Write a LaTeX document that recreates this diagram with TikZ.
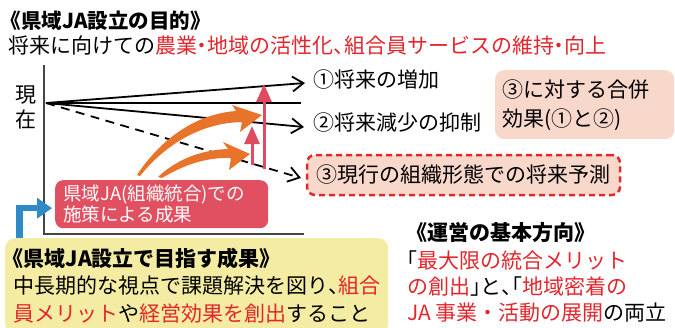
\documentclass[tikz,border=0pt]{standalone}
\usepackage{fontspec}
\setmainfont{Noto Sans CJK JP}
\newfontfamily\jhw{Noto Sans CJK JP}[RawFeature=+halt]
\usetikzlibrary{arrows.meta}
\definecolor{jared}{RGB}{226,38,45}
\definecolor{boxred}{RGB}{224,80,96}
\definecolor{arrred}{RGB}{222,76,98}
\definecolor{jaorange}{RGB}{232,115,42}
\definecolor{jablue}{RGB}{46,139,200}
\definecolor{jayellow}{RGB}{244,236,162}
\definecolor{japink}{RGB}{249,216,204}
\definecolor{dashred}{RGB}{225,40,45}
\definecolor{axisgray}{RGB}{70,70,70}
\newcommand\jfs[2]{\fontsize{#1}{#2}\selectfont}
\newcommand\jnk{{\jhw ・}}
\newcommand\jtouten{{\jhw 、}}
\newcommand\jlb{{\jhw 《}}
\newcommand\jrb{{\jhw 》}}
\newcommand\jlk{{\jhw 「}}
\newcommand\jrk{{\jhw 」}}
\begin{document}
\begin{tikzpicture}[x=1pt,y=-1pt,
  lbl/.style={anchor=west, inner sep=0pt},
  chartarrow/.style={line width=1.8pt, -{Straight Barb[length=11pt,width=15pt,line width=1.8pt]}},
  redup/.style={line width=3pt, arrred, -{Triangle[length=18pt,width=15pt]}},
  bluearrow/.style={jablue, line width=6.5pt, -{Triangle[length=15pt,width=20pt]}},
  orangefill/.style={fill=jaorange},
]
\useasboundingbox (0,0) rectangle (675,327);

% headings
\node[lbl, font=\bfseries\jfs{20.5}{25}] (title) at (11,20.5) {\jlb 県域JA設立の目的\jrb};
\node[lbl, font=\jfs{21}{25}] (sub) at (8,46) {将来に向けての\textcolor{jared}{農業\jnk 地域の活性化\jtouten 組合員サービスの維持\jnk 向上}};

% axes
\draw[axisgray, line width=1.4pt] (44,65) -- (44,234) -- (304,234);
\node[font=\jfs{21}{25}, align=center, inner sep=0pt] (now) at (26,107.5) {現\\在};

% chart lines
\coordinate (O) at (46,103);
\coordinate (e0) at (301,103);
\coordinate (e1) at (305,83);
\coordinate (e2) at (304,127);
\coordinate (e3) at (301,178);
\draw[line width=2.3pt] (O) -- (e0);
\draw[chartarrow] (O) -- (e1);
\draw[chartarrow] (O) -- (e2);
\draw[chartarrow, dash pattern=on 9pt off 6.5pt] (O) -- (e3);

% orange curved arrows
\fill[orangefill] (137,175) .. controls (160,140) and (195,114) .. (236,111)
  -- (232,105) -- (262,115) -- (240,132) -- (242,122)
  .. controls (200,123) and (165,145) .. (140,176) -- cycle;
\fill[orangefill] (158,177) .. controls (176,160) and (200,150) .. (228,149)
  -- (223,142) -- (250,154) -- (229,170) -- (231,158)
  .. controls (205,157) and (182,166) .. (162,178) -- cycle;

% red up arrows
\coordinate (r1a) at (264,169);
\coordinate (r1b) at (264,84);
\coordinate (r2a) at (252,165);
\coordinate (r2b) at (252,126);
\draw[redup] (r1a) -- (r1b);
\draw[redup] (r2a) -- (r2b);

% line labels
\node[lbl, font=\jfs{21}{25}] (l1) at (313,80) {①将来の増加};
\node[lbl, font=\jfs{21}{25}] (l2) at (313,123) {②将来減少の抑制};
\node[draw=dashred, fill=japink, line width=2.5pt, dash pattern=on 6pt off 4pt,
  rounded corners=8pt, minimum width=313pt, minimum height=40pt, inner sep=0pt,
  font=\jfs{21}{25}] (l3) at (463.5,175) {③現行の組織形態での将来予測};

% merger effect box
\node[fill=japink, rounded corners=9pt, anchor=north west, minimum height=69pt,
  text width=165pt, inner xsep=7pt, inner ysep=0pt, align=left,
  font=\jfs{21}{29}] (effect) at (495,70) {③に対する合併\\効果(①と②)};

% red result box
\node[fill=boxred, rounded corners=8pt, anchor=north west, minimum height=48pt,
  text width=197pt, inner xsep=8pt, inner ysep=0pt, align=left, text=white,
  font=\jfs{18.5}{21}] (result) at (55,180) {県域JA(組織統合)での\\施策による成果};

% yellow goal box
\node[fill=jayellow, rounded corners=10pt, anchor=north west, minimum height=95pt,
  text width=367pt, inner xsep=8pt, inner ysep=0pt, align=left,
  font=\jfs{21}{27.5}] (goal) at (5,238)
  {{\bfseries\jlb 県域JA設立で目指す成果\jrb}\\
   中長期的な視点で課題解決を図り\jtouten\textcolor{jared}{組合}\\
   \textcolor{jared}{員メリット}や\textcolor{jared}{経営効果を創出}すること};

% blue connector
\draw[bluearrow] ([xshift=14.5pt]goal.north west) |- ([xshift=-3pt,yshift=-4pt]result.west);

% basic direction
\node[lbl, font=\bfseries\jfs{21}{25}] (basic) at (417,233) {\jlb 運営の基本方向\jrb};
\node[lbl, align=left, font=\jfs{21}{26}] (policy) at (407,286.5)
  {\jlk\textcolor{jared}{最大限の統合メリット}\\
   \textcolor{jared}{の創出}\jrk と\jtouten\jlk\textcolor{jared}{地域密着の}\\
   \textcolor{jared}{JA 事業・活動の展開}の両立};
\end{tikzpicture}
\end{document}
